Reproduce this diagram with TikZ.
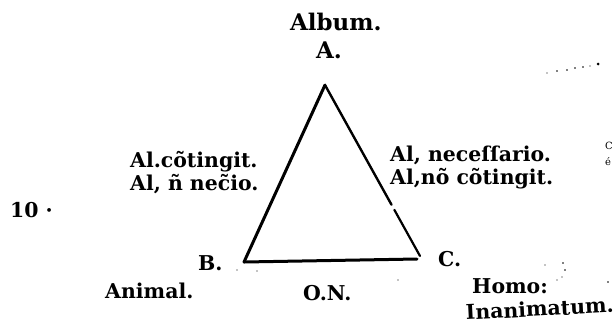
\documentclass[tikz,border=0pt]{standalone}
\usepackage{fontspec}
\setmainfont{DejaVu Serif}
\usetikzlibrary{calc}
\begin{document}
\begin{tikzpicture}[x=1bp,y=-1bp,
  lbl/.style={font=\bfseries\fontsize{20.5}{20.5}\selectfont, inner sep=0pt, anchor=base west},
  big/.style={font=\bfseries\fontsize{23}{23}\selectfont, inner sep=0pt, anchor=base west},
  tiny/.style={font=\fontsize{10}{10}\selectfont, inner sep=0pt, anchor=base west},
  side/.style={line width=3bp, line cap=round, line join=round},
  speck/.style={fill=black}]
\useasboundingbox (0,0) rectangle (615,332);
% triangle corners
\coordinate (A) at (325,85);
\coordinate (B) at (244,262);
\coordinate (C) at (420,256);
\coordinate (Cb) at (417,259);
\coordinate (g1) at ($(A)!0.70!(C)$);
\coordinate (g2) at ($(A)!0.73!(C)$);
\draw[side] (B) -- (A);
\draw[side, line width=2.4bp] (A) -- (g1);
\draw[side, line width=2.2bp] (g2) -- (C);
\draw[side] (B) -- (Cb);
% labels
\node[big] (album) at (290,30) {Album.};
\node[big] (la) at (316,58) {A.};
\node[lbl] (l1) at (130,167) {Al.cõtingit.};
\node[lbl] (l2) at (130,190) {Al, ñ nec̃io.};
\node[lbl] (r1) at (390,161) {Al, neceſſario.};
\node[lbl] (r2) at (390,184) {Al,nõ cõtingit.};
\node[lbl] (lb) at (198,270) {B.};
\node[lbl] (animal) at (105,298) {Animal.};
\node[lbl] (on) at (303,300) {O.N.};
\node[lbl] (lc) at (438,266) {C.};
\node[lbl] (homo) at (472,293) {Homo:};
\node[lbl, rotate=3] (inan) at (466,320) {Inanimatum.};
\node[lbl] (page) at (10,217) {10 ·};
\node[tiny] (f1) at (605,149) {C};
\node[tiny] (f2) at (605,165) {é};
% specks
\foreach \p/\r in {(547,73)/0.7,(557,71)/0.9,(567,70)/0.8,(575,68)/0.9,(583,67)/0.8,(590,66)/0.7,(598,64)/1.5,
  (545,265)/0.7,(563,263)/0.8,(565,270)/0.8,(562,277)/0.7,(557,280)/0.7,(608,282)/0.9,(237,270)/0.6,(257,271)/0.6,(398,280)/0.6}
  \fill[speck] \p circle (\r);
\end{tikzpicture}
\end{document}
